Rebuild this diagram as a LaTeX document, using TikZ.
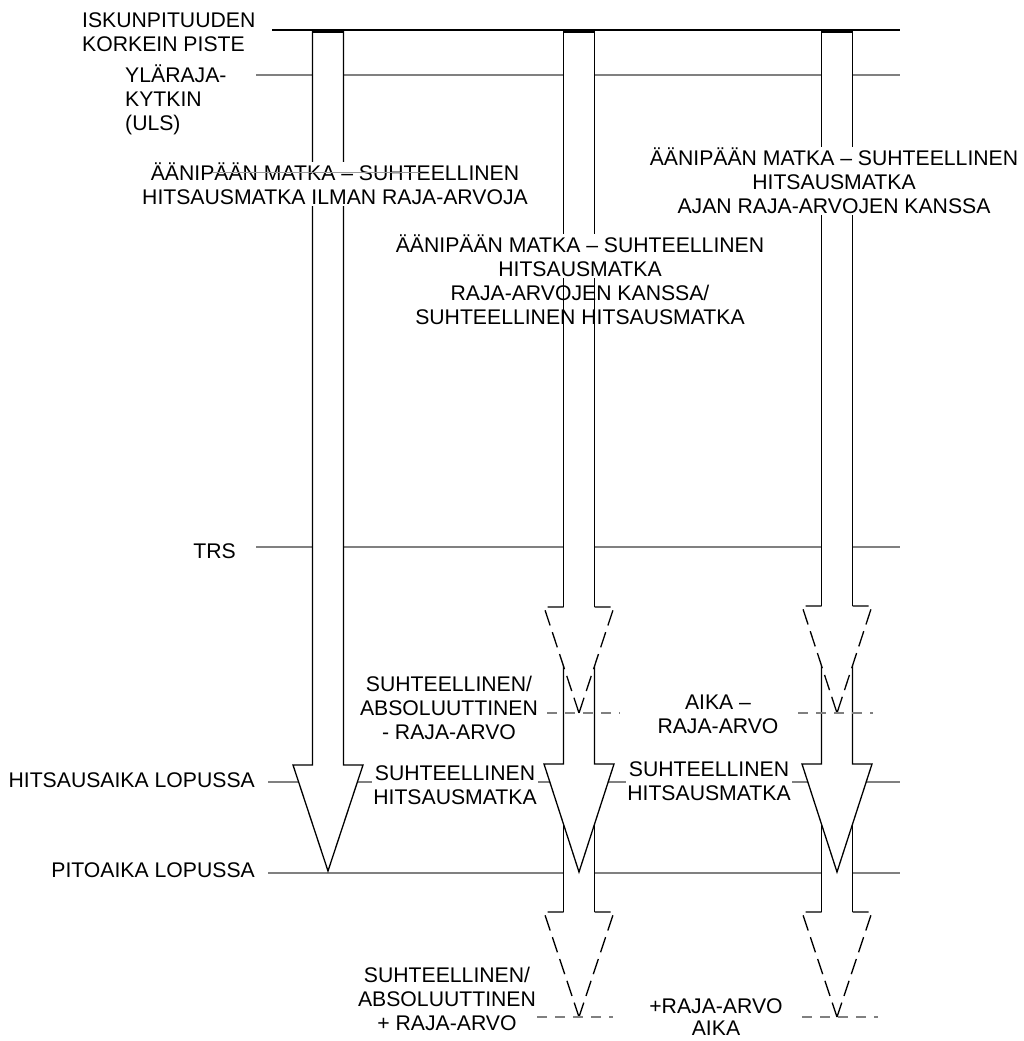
\documentclass[tikz,border=0pt]{standalone}
\usepackage{fontspec}
\setmainfont{Liberation Sans}
\newcommand\ArrowSolid[4]{%
  \path[fill=white] ({#1-15.5},#2) -- ({#1-15.5},#3) -- ({#1-35},#3) -- (#1,#4) -- ({#1+35},#3) -- ({#1+15.5},#3) -- ({#1+15.5},#2) -- cycle;
  \draw[aout] ({#1-15.5},#2) -- ({#1-15.5},#3) -- ({#1-35},#3) -- (#1,#4) -- ({#1+35},#3) -- ({#1+15.5},#3) -- ({#1+15.5},#2);
}
\newcommand\ArrowDashed[4]{%
  \path[fill=white] ({#1-15.5},#2) -- ({#1-15.5},#3) -- ({#1-35},#3) -- (#1,#4) -- ({#1+35},#3) -- ({#1+15.5},#3) -- ({#1+15.5},#2) -- cycle;
  \draw[aout] ({#1-15.5},#2) -- ({#1-15.5},#3);
  \draw[aout] ({#1+15.5},#2) -- ({#1+15.5},#3);
  \draw[adash] ({#1-15.5},#3) -- ({#1-35},#3) -- (#1,#4);
  \draw[adash] ({#1+15.5},#3) -- ({#1+35},#3) -- (#1,#4);
}
\begin{document}
\begin{tikzpicture}[x=1pt,y=-1pt,
  glin/.style={draw=black!50, line width=1.4pt},
  gdash/.style={draw=black!50, line width=1.6pt, dash pattern=on 10pt off 8pt},
  aout/.style={draw=black, line width=1.3pt, line join=miter},
  adash/.style={draw=black, line width=1.3pt, dash pattern=on 16pt off 7pt},
  capline/.style={draw=black, line width=3.5pt},
  lbl/.style={font=\fontsize{21.2}{24}\selectfont, align=center, inner sep=1pt},
  wlbl/.style={lbl, fill=white},
]
\useasboundingbox (0,0) rectangle (1023,1041);

% horizontal gray reference lines
\draw[glin] (256,75) -- (900,75);
\draw[glin] (256,547) -- (900,547);
\draw[glin] (268,782) -- (900,782);
\draw[glin] (268,873) -- (900,873);

% column 1 arrow
\ArrowSolid{328}{30}{765}{871}

% column 2 arrows (bottom pieces first)
\ArrowDashed{579}{800}{912}{1017}
\ArrowSolid{579}{645}{764}{872}
\ArrowDashed{579}{30}{607}{713}

% column 3 arrows
\ArrowDashed{837}{800}{912}{1017}
\ArrowSolid{837}{645}{764}{872}
\ArrowDashed{837}{30}{606}{713}

% top line and caps
\draw[draw=black, line width=2pt] (272,30) -- (900,30);
\draw[capline] (312.5,31) -- (343.5,31);
\draw[capline] (563.5,31) -- (594.5,31);
\draw[capline] (821.5,31) -- (852.5,31);

% dashed gray limit lines
\draw[gdash] (547,713) -- (620,713);
\draw[gdash] (798,713) -- (873,713);
\draw[gdash] (537,1017) -- (613,1017);
\draw[gdash] (802,1017) -- (878,1017);

% labels
\node[lbl, anchor=west, align=left] (iskun) at (81,32) {ISKUNPITUUDEN\\KORKEIN PISTE};
\node[lbl, anchor=west, align=left] (uls) at (124,100) {YLÄRAJA-\\KYTKIN\\(ULS)};
\node[lbl, anchor=east] (trs) at (237,551) {TRS};
\node[lbl, anchor=east] (hitsaika) at (256,780) {HITSAUSAIKA LOPUSSA};
\node[lbl, anchor=east] (pito) at (256,870) {PITOAIKA LOPUSSA};

\node[wlbl] (col1) at (335,184) {ÄÄNIPÄÄN MATKA – SUHTEELLINEN\\HITSAUSMATKA ILMAN RAJA-ARVOJA};
\node[wlbl] (col2a) at (580,256) {ÄÄNIPÄÄN MATKA – SUHTEELLINEN\\HITSAUSMATKA};
\node[lbl] (col2b) at (580,305) {RAJA-ARVOJEN KANSSA/\\SUHTEELLINEN HITSAUSMATKA};
\node[wlbl] (col3) at (834,181) {ÄÄNIPÄÄN MATKA – SUHTEELLINEN\\HITSAUSMATKA\\AJAN RAJA-ARVOJEN KANSSA};

\node[lbl] (minus) at (449,708) {SUHTEELLINEN/\\ABSOLUUTTINEN\\- RAJA-ARVO};
\node[lbl] (aikaminus) at (718,714) {AIKA –\\RAJA-ARVO};
\node[wlbl] (suht2) at (455,785) {SUHTEELLINEN\\HITSAUSMATKA};
\node[wlbl] (suht3) at (709,781) {SUHTEELLINEN\\HITSAUSMATKA};
\node[lbl] (plus) at (447,999) {SUHTEELLINEN/\\ABSOLUUTTINEN\\+ RAJA-ARVO};
\node[lbl, font=\fontsize{21.2}{22.5}\selectfont] (aikaplus) at (716,1017) {+RAJA-ARVO\\AIKA};

% faint stray line through column 1 label
\draw[draw=black!40, line width=0.6pt] (212,172) -- (420,172);
\end{tikzpicture}
\end{document}
